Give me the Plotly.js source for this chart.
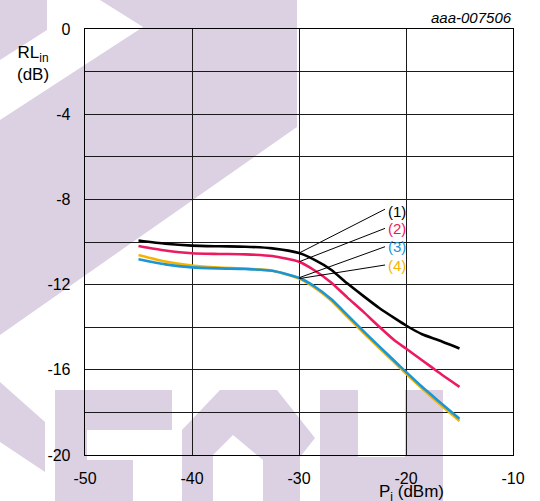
<!DOCTYPE html>
<html>
<head>
<meta charset="utf-8">
<script src="https://cdn.plot.ly/plotly-3.0.1.min.js"></script>
<style>html,body{margin:0;padding:0;background:#fff;}#chart{width:540px;height:501px;}</style>
</head>
<body>
<div id="chart"></div>
<script>
// ---- data ----
const pinDbm = [-45, -42.5, -40, -37.5, -35, -32.5, -30, -28.5, -27, -25.5, -24, -22.5, -21, -20, -18.5, -17, -15];
const rl1 = [-9.93, -10.08, -10.17, -10.2, -10.22, -10.3, -10.52, -10.85, -11.3, -11.94, -12.53, -13.1, -13.6, -13.92, -14.33, -14.6, -15.0];
const rl2 = [-10.19, -10.4, -10.53, -10.56, -10.58, -10.66, -10.93, -11.35, -11.9, -12.6, -13.27, -13.98, -14.65, -15.0, -15.55, -16.1, -16.8];
const rl3 = [-10.81, -11.05, -11.19, -11.24, -11.27, -11.35, -11.68, -12.1, -12.68, -13.42, -14.17, -14.9, -15.62, -16.1, -16.8, -17.45, -18.3];
const rl4 = [-10.61, -10.92, -11.11, -11.2, -11.25, -11.35, -11.72, -12.16, -12.75, -13.5, -14.25, -14.98, -15.7, -16.18, -16.88, -17.55, -18.4];
const seriesLabels = ['(1)', '(2)', '(3)', '(4)'];
const xTickVals = [-50, -40, -30, -20, -10];
const xTickText = ['-50', '-40', '-30', '-20', '-10'];
const yTickVals = [0, -2, -4, -6, -8, -10, -12, -14, -16, -18, -20];
const yTickText = ['0', ' ', '-4', ' ', '-8', ' ', '-12', ' ', '-16', ' ', '-20'];

// ---- styling ----
const colors = ['#000000', '#ec1a5e', '#1c95d4', '#f6b400'];
const FONT = 'Arial, "Liberation Sans", sans-serif';
const allSeries = [rl1, rl2, rl3, rl4];

// label anchor (data coords) and leader-line attachment x
const labelX = -21.85;
const labelY = [-8.55, -9.36, -10.22, -11.12];
const leaderStartX = -21.96;
const leaderStartY = [-8.46, -9.36, -10.22, -11.08];
const leaderEndX = -30;

// watermark decoration (pixel coords)
const L = 85, R = 513, T = 29, B = 455;
function px(x) { return (x - L) / (R - L); }
function py(y) { return (B - y) / (B - T); }
function poly(pts) {
  return 'M ' + pts.map(p => px(p[0]).toFixed(4) + ',' + py(p[1]).toFixed(4)).join(' L ') + ' Z';
}
const wmColor = '#dcd1e2';
const wm = [
  [[0,0],[47,0],[47,30],[0,60]],
  [[100,0],[297,0],[297,127],[0,335],[0,120],[143,27]],
  [[0,382],[45,422],[45,472],[0,442]],
  [[55,390],[172,390],[172,430],[87,430],[87,501],[55,501]],
  [[87,460],[133,460],[133,501],[87,501]],
  [[182,501],[182,430],[220,390],[277,390],[315,438],[300,457],[300,501],[263,501],[263,460],[233,435],[213,455],[213,501]],
  [[320,390],[358,390],[358,457],[405,457],[405,390],[443,390],[443,501],[320,501]]
];

const traces = [];
for (let i = 3; i >= 0; i--) {
  traces.push({
    x: pinDbm, y: allSeries[i], type: 'scatter', mode: 'lines',
    line: {color: colors[i], width: 2.6, shape: 'spline', smoothing: 0.6},
    hoverinfo: 'skip', showlegend: false
  });
}

const shapes = wm.map(p => ({
  type: 'path', xref: 'paper', yref: 'paper', path: poly(p),
  fillcolor: wmColor, line: {width: 0}, layer: 'below'
}));
const anns = [];
for (let i = 0; i < 4; i++) {
  const endY = allSeries[i][pinDbm.indexOf(leaderEndX)];
  shapes.push({
    type: 'line', xref: 'x', yref: 'y',
    x0: leaderStartX, y0: leaderStartY[i], x1: leaderEndX, y1: endY,
    line: {color: '#000', width: 1}
  });
  anns.push({
    x: labelX, y: labelY[i], xref: 'x', yref: 'y', text: seriesLabels[i],
    showarrow: false, xanchor: 'left', yanchor: 'middle',
    font: {family: FONT, size: 15, color: colors[i]}
  });
}
anns.push({
  x: px(32.5), y: py(64), xref: 'paper', yref: 'paper', showarrow: false,
  text: 'RL<sub>in</sub><br>(dB)', align: 'center', xanchor: 'center', yanchor: 'middle',
  font: {family: FONT, size: 17, color: '#000'}
});
anns.push({
  x: px(411), y: py(493), xref: 'paper', yref: 'paper', showarrow: false,
  text: 'P<sub>i</sub> (dBm)', xanchor: 'center', yanchor: 'middle',
  font: {family: FONT, size: 17, color: '#000'}
});
anns.push({
  x: px(514), y: py(17.5), xref: 'paper', yref: 'paper', showarrow: false,
  text: '<i>aaa-007506</i>', xanchor: 'right', yanchor: 'middle',
  font: {family: FONT, size: 15, color: '#000'}
});

const layout = {
  width: 540, height: 501,
  margin: {l: L, r: 540 - R, t: T, b: 501 - B, pad: 0},
  paper_bgcolor: '#ffffff', plot_bgcolor: 'rgba(0,0,0,0)',
  showlegend: false,
  xaxis: {
    range: [-50, -10], tickmode: 'array', tickvals: xTickVals, ticktext: xTickText,
    showgrid: true, gridcolor: '#1a1a1a', gridwidth: 1,
    zeroline: false, showline: true, mirror: true, linecolor: '#000', linewidth: 1.3,
    ticks: 'outside', ticklen: 8, tickcolor: 'rgba(0,0,0,0)',
    tickfont: {family: FONT, size: 16, color: '#000'}, fixedrange: true
  },
  yaxis: {
    range: [-20, 0], tickmode: 'array', tickvals: yTickVals, ticktext: yTickText,
    showgrid: true, gridcolor: '#1a1a1a', gridwidth: 1,
    zeroline: false, showline: true, mirror: true, linecolor: '#000', linewidth: 1.3,
    ticks: 'outside', ticklen: 10, tickcolor: 'rgba(0,0,0,0)',
    tickfont: {family: FONT, size: 16, color: '#000'}, fixedrange: true
  },
  shapes: shapes,
  annotations: anns
};

Plotly.newPlot('chart', traces, layout, {displayModeBar: false, staticPlot: true});
</script>
</body>
</html>
